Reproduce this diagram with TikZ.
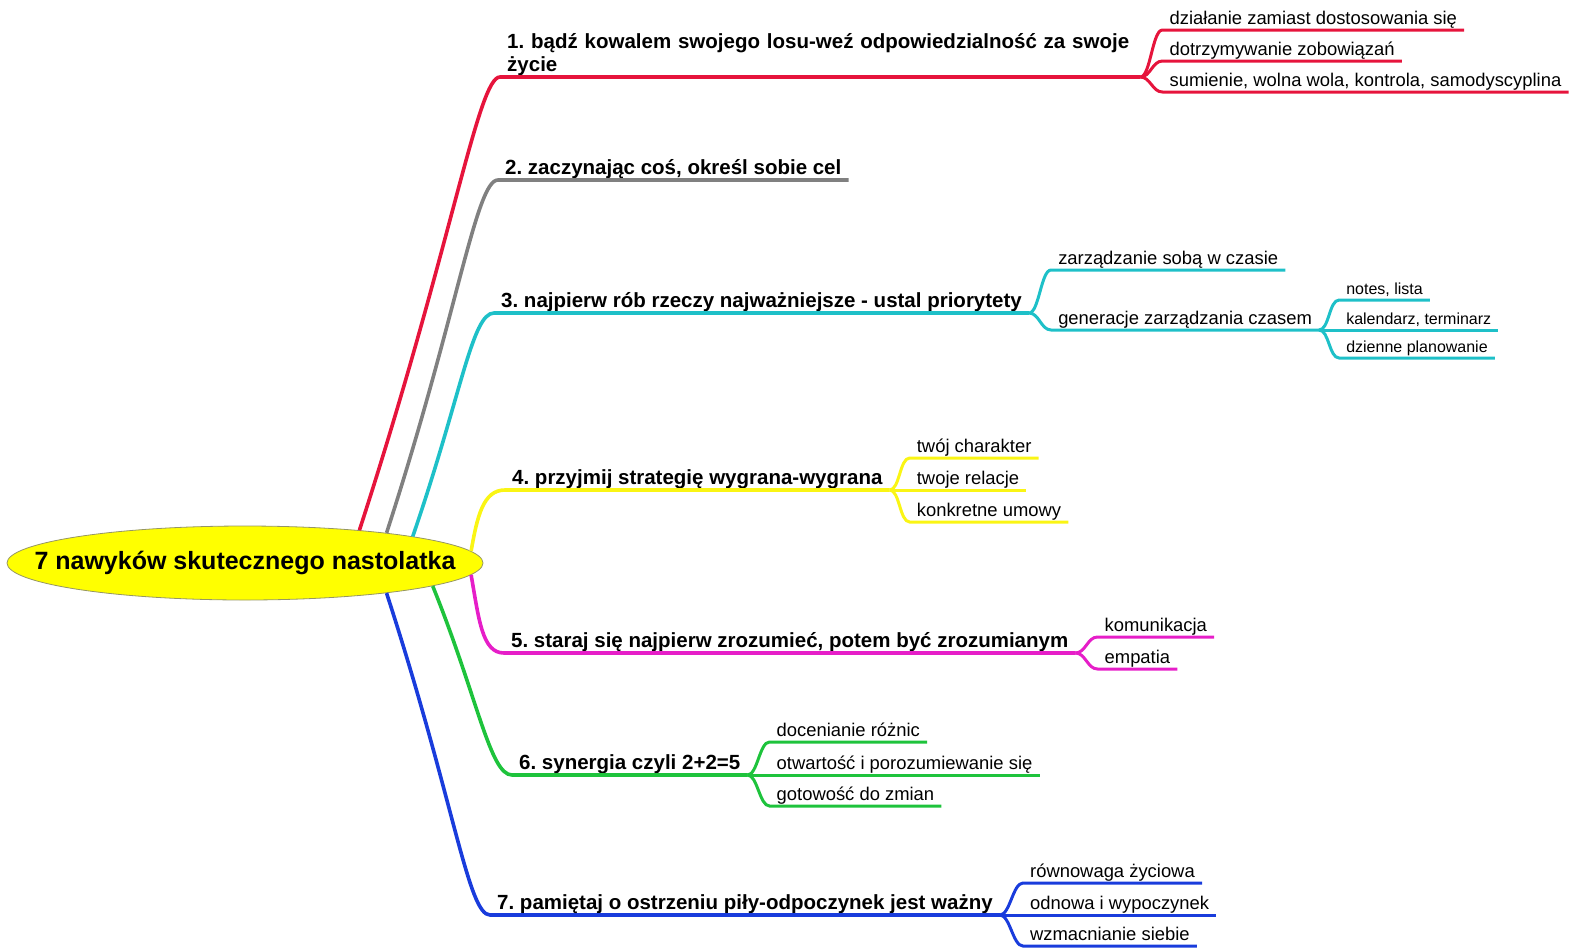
\documentclass[tikz,border=0pt]{standalone}
\usepackage{fontspec}
\setmainfont{Liberation Sans}
\usetikzlibrary{shapes.geometric,positioning}
\frenchspacing

\definecolor{crimson}{RGB}{230,20,60}
\definecolor{stone}{RGB}{128,128,128}
\definecolor{teal2}{RGB}{30,192,200}
\definecolor{lemon}{RGB}{250,245,20}
\definecolor{pink2}{RGB}{230,30,200}
\definecolor{leafgreen}{RGB}{30,195,60}
\definecolor{royal}{RGB}{25,60,220}

\begin{document}
\begin{tikzpicture}[x=1pt, y=-1pt,
    hub/.style={ellipse, draw={rgb,255:red,150;green,150;blue,100}, line width=0.8pt,
                fill={rgb,255:red,255;green,255;blue,0}, inner sep=0pt,
                minimum width=476pt, minimum height=74pt},
    hub text/.style={font=\fontsize{25}{28}\selectfont\bfseries},
    branch/.style={anchor=south west, inner xsep=7pt, inner ysep=5pt, text depth=0pt,
                   font=\fontsize{20.5}{23}\selectfont\bfseries},
    leaf/.style={anchor=south west, inner xsep=7pt, inner ysep=5pt, text depth=0pt,
                 font=\fontsize{18.4}{22}\selectfont},
    twig/.style={leaf, font=\fontsize{16}{19}\selectfont},
    trunk/.style={line width=3.6pt, to path={.. controls +(#1) and +(-22,0) ..
                  (\tikztotarget.south west) -- (\tikztotarget.south east)}},
    fork/.style={line width=3pt, to path={.. controls +(10,0) and +(-10,0) ..
                 (\tikztotarget.south west) -- (\tikztotarget.south east)}}]

  \useasboundingbox (0,0) rectangle (1574,951);

  \node[hub, label={[hub text]center:7 nawyków skutecznego nastolatka}] (c) at (245,563) {};

  % main branches
  \node (b1) at (500,77) [branch, align=left, text width=626pt, text depth=23pt]
        {1. bądź kowalem swojego losu-weź odpowiedzialność za swoje\\życie};
  \node (b2) at (498,180) [branch] {2. zaczynając coś, określ sobie cel};
  \node (b3) at (494,313) [branch] {3. najpierw rób rzeczy najważniejsze - ustal priorytety};
  \node (b4) at (505,490) [branch] {4. przyjmij strategię wygrana-wygrana};
  \node (b5) at (504,653) [branch] {5. staraj się najpierw zrozumieć, potem być zrozumianym};
  \node (b6) at (512,775) [branch] {6. synergia czyli 2+2=5};
  \node (b7) at (490,915) [branch] {7. pamiętaj o ostrzeniu piły-odpoczynek jest ważny};

  % 1
  \node (r1) [right=22pt of b1.south east, yshift=47pt, leaf] {działanie zamiast dostosowania się};
  \node (r2) [right=22pt of b1.south east, yshift=16pt, leaf] {dotrzymywanie zobowiązań};
  \node (r3) [right=22pt of b1.south east, yshift=-15pt, leaf] {sumienie, wolna wola, kontrola, samodyscyplina};
  % 3
  \node (c1) [right=22pt of b3.south east, yshift=43pt, leaf] {zarządzanie sobą w czasie};
  \node (c2) [right=22pt of b3.south east, yshift=-17pt, leaf] {generacje zarządzania czasem};
  \node (c21) [right=20pt of c2.south east, yshift=30pt, twig] {notes, lista};
  \node (c22) [right=20pt of c2.south east, twig] {kalendarz, terminarz};
  \node (c23) [right=20pt of c2.south east, yshift=-28pt, twig] {dzienne planowanie};
  % 4
  \node (y1) [right=20pt of b4.south east, yshift=32pt, leaf] {twój charakter};
  \node (y2) [right=20pt of b4.south east, leaf] {twoje relacje};
  \node (y3) [right=20pt of b4.south east, yshift=-32pt, leaf] {konkretne umowy};
  % 5
  \node (m1) [right=22pt of b5.south east, yshift=16pt, leaf] {komunikacja};
  \node (m2) [right=22pt of b5.south east, yshift=-16pt, leaf] {empatia};
  % 6
  \node (g1) [right=22pt of b6.south east, yshift=33pt, leaf] {docenianie różnic};
  \node (g2) [right=22pt of b6.south east, leaf] {otwartość i porozumiewanie się};
  \node (g3) [right=22pt of b6.south east, yshift=-31pt, leaf] {gotowość do zmian};
  % 7
  \node (l1) [right=23pt of b7.south east, yshift=32pt, leaf] {równowaga życiowa};
  \node (l2) [right=23pt of b7.south east, leaf] {odnowa i wypoczynek};
  \node (l3) [right=23pt of b7.south east, yshift=-31pt, leaf] {wzmacnianie siebie};

  \path
    (c.16)  edge[trunk=72:300pt, crimson] (b1)
    (c.12)  edge[trunk=72:230pt, stone] (b2)
    (c.9)   edge[trunk=71:150pt, teal2] (b3)
    (c.3)   edge[trunk=80:35pt, lemon] (b4)
    (c.-3)  edge[trunk=-80:45pt, pink2] (b5)
    (c.-7)  edge[trunk=-68:120pt, leafgreen] (b6)
    (c.-12) edge[trunk=-72:220pt, royal] (b7);

  \path
    (b1.south east) edge[fork, crimson] (r1)
                    edge[fork, crimson] (r2)
                    edge[fork, crimson] (r3)
    (b3.south east) edge[fork, teal2] (c1)
                    edge[fork, teal2] (c2)
    (c2.south east) edge[fork, teal2] (c21)
                    edge[fork, teal2] (c22)
                    edge[fork, teal2] (c23)
    (b4.south east) edge[fork, lemon] (y1)
                    edge[fork, lemon] (y2)
                    edge[fork, lemon] (y3)
    (b5.south east) edge[fork, pink2] (m1)
                    edge[fork, pink2] (m2)
    (b6.south east) edge[fork, leafgreen] (g1)
                    edge[fork, leafgreen] (g2)
                    edge[fork, leafgreen] (g3)
    (b7.south east) edge[fork, royal] (l1)
                    edge[fork, royal] (l2)
                    edge[fork, royal] (l3);

\end{tikzpicture}
\end{document}
